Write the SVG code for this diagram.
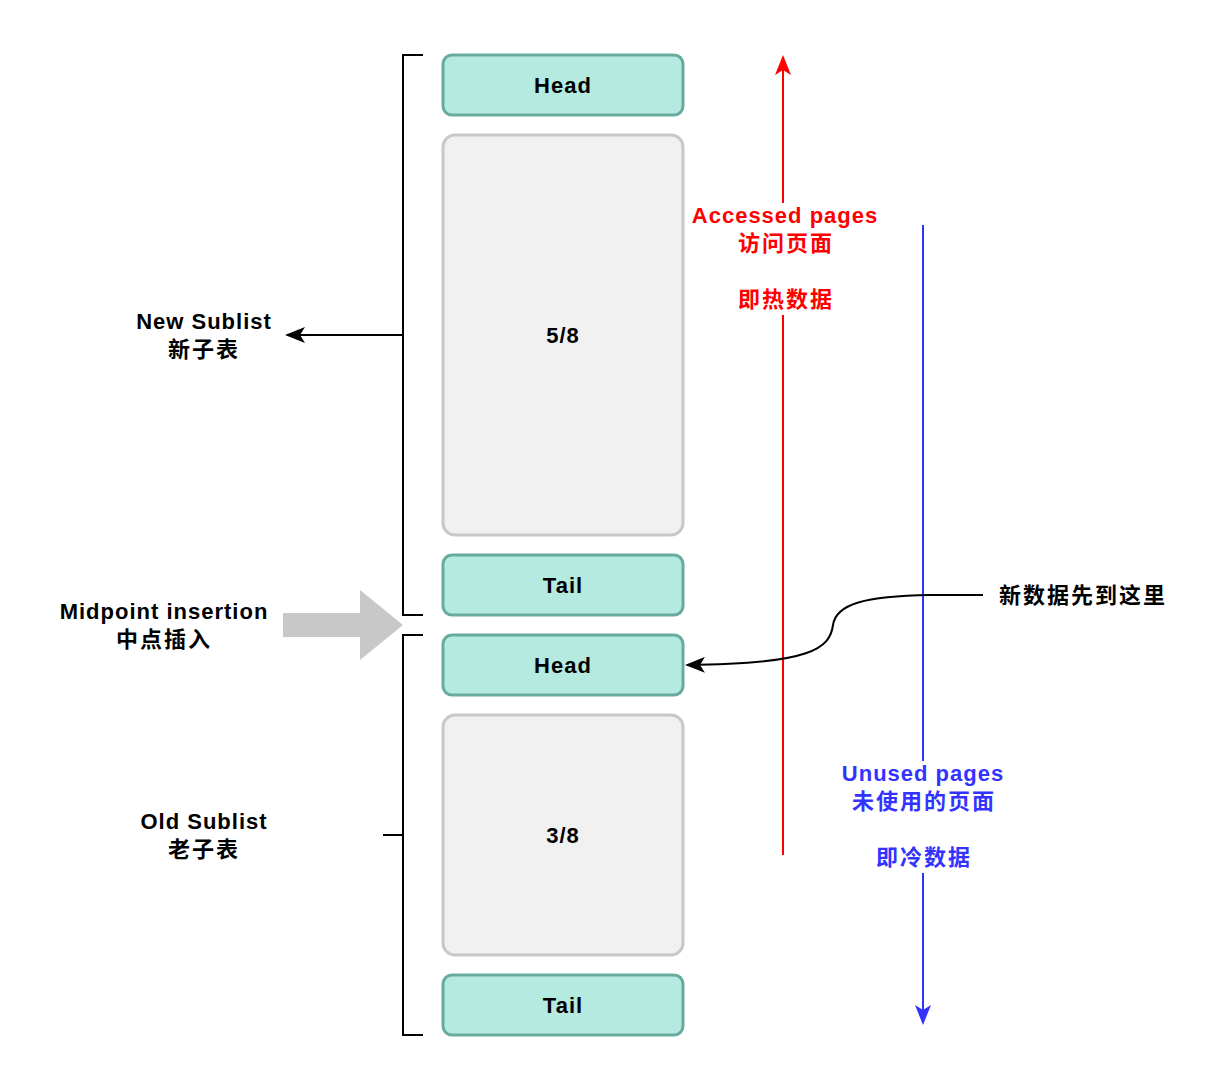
<svg xmlns="http://www.w3.org/2000/svg" width="1224" height="1082" viewBox="0 0 1224 1082">
<defs>
<style>
text{font-family:"Liberation Sans","Noto Sans CJK SC",sans-serif;font-weight:bold;font-size:22px;letter-spacing:1px;text-anchor:middle}
.cjk{letter-spacing:2px}
.node{fill:#b4eae0;stroke:#67ab9f;stroke-width:3}
.body{fill:#f1f1f1;stroke:#c8c8c8;stroke-width:3}
.br{fill:none;stroke:#000;stroke-width:2}
.red{fill:#ff0000}
.blue{fill:#3333ff}
</style>
<marker id="ak" viewBox="0 0 20 16" refX="18" refY="8" markerWidth="20" markerHeight="16" markerUnits="userSpaceOnUse" orient="auto"><path d="M0,0 L20,8 L0,16 L5,8 Z" fill="#000"/></marker>
<marker id="ar" viewBox="0 0 20 16" refX="18" refY="8" markerWidth="20" markerHeight="16" markerUnits="userSpaceOnUse" orient="auto"><path d="M0,0 L20,8 L0,16 L5,8 Z" fill="#ff0000"/></marker>
<marker id="ab" viewBox="0 0 20 16" refX="18" refY="8" markerWidth="20" markerHeight="16" markerUnits="userSpaceOnUse" orient="auto"><path d="M0,0 L20,8 L0,16 L5,8 Z" fill="#3333ff"/></marker>
</defs>
<rect width="1224" height="1082" fill="#fff"/>
<g id="connectors">
<path class="br" d="M423,55 H403 V615 H423"/>
<path class="br" d="M403,335 H287" marker-end="url(#ak)"/>
<path class="br" d="M423,635 H403 V1035 H423"/>
<path class="br" d="M383,835 H403"/>
<path d="M783,855 V57" stroke="#ff0000" stroke-width="2" fill="none" marker-end="url(#ar)"/>
<path d="M923,225 V1023" stroke="#3333ff" stroke-width="2" fill="none" marker-end="url(#ab)"/>
<path d="M983,595 L930,595 C865,596 836,604 833,625 C830,648 812,664 687,665" stroke="#000" stroke-width="2" fill="none" marker-end="url(#ak)"/>
<path d="M283,613 H360 V590 L403,625 L360,660 V637 H283 Z" fill="#c8c8c8"/>
</g>
<g id="head1"><rect class="node" x="443" y="55" width="240" height="60" rx="9"/><text x="563" y="93">Head</text></g>
<g id="body1"><rect class="body" x="443" y="135" width="240" height="400" rx="12"/><text x="563" y="343">5/8</text></g>
<g id="tail1"><rect class="node" x="443" y="555" width="240" height="60" rx="9"/><text x="563" y="593">Tail</text></g>
<g id="head2"><rect class="node" x="443" y="635" width="240" height="60" rx="9"/><text x="563" y="673">Head</text></g>
<g id="body2"><rect class="body" x="443" y="715" width="240" height="240" rx="12"/><text x="563" y="843">3/8</text></g>
<g id="tail2"><rect class="node" x="443" y="975" width="240" height="60" rx="9"/><text x="563" y="1013">Tail</text></g>
<g id="newSublist"><text x="204" y="329">New Sublist</text><text class="cjk" x="204" y="357">新子表</text></g>
<g id="midpoint"><text x="164" y="619">Midpoint insertion</text><text class="cjk" x="164" y="647">中点插入</text></g>
<g id="oldSublist"><text x="204" y="829">Old Sublist</text><text class="cjk" x="204" y="857">老子表</text></g>
<g id="accessed"><rect x="688" y="203" width="194" height="112" fill="#fff"/><text class="red" x="785" y="223">Accessed pages</text><text class="red cjk" x="786" y="251">访问页面</text><text class="red cjk" x="786" y="307">即热数据</text></g>
<g id="unused"><rect x="838" y="761" width="170" height="112" fill="#fff"/><text class="blue" x="923" y="781">Unused pages</text><text class="blue cjk" x="924" y="809">未使用的页面</text><text class="blue cjk" x="924" y="865">即冷数据</text></g>
<g id="newdata"><text class="cjk" x="999" y="603" style="text-anchor:start">新数据先到这里</text></g>
</svg>
